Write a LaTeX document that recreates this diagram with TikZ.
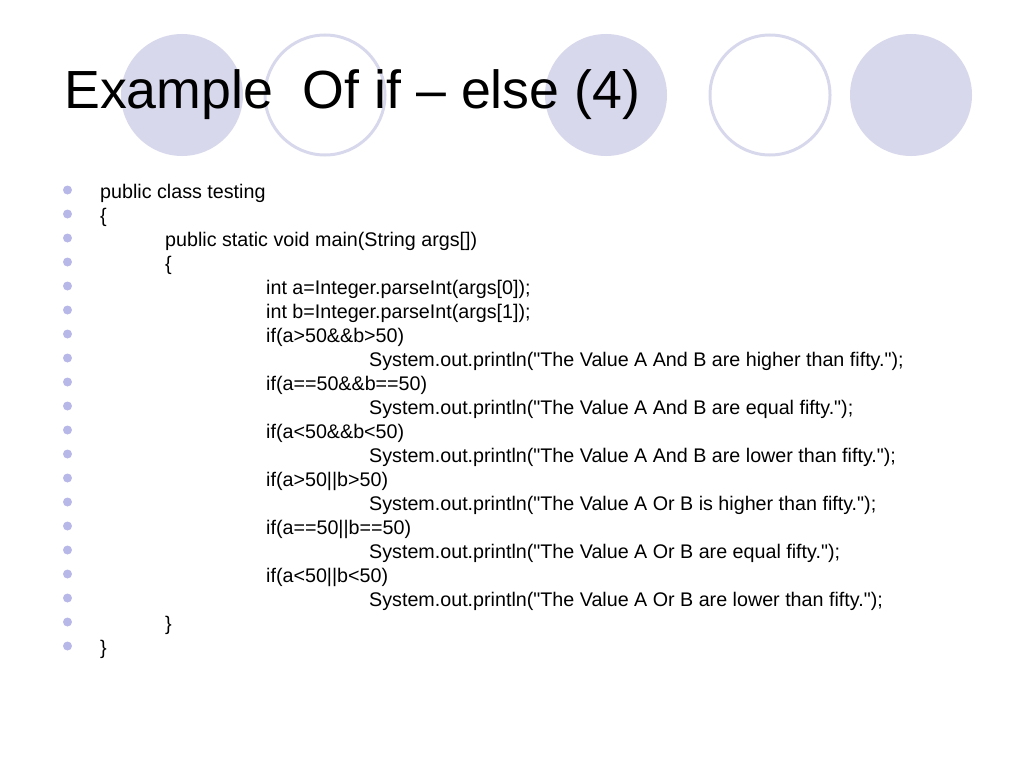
\documentclass[tikz,border=0pt]{standalone}
\usepackage{fontspec}
\setmainfont{Liberation Sans}
\setmonofont{Liberation Sans}
\definecolor{ringfill}{RGB}{216,216,236}
\definecolor{bulletblue}{RGB}{184,184,232}
\begin{document}
\begin{tikzpicture}[x=1pt, y=-1pt,
    disc/.style={fill=ringfill},
    ring/.style={draw=ringfill, line width=3pt},
    codeline/.style={anchor=base west, inner sep=0pt, font=\ttfamily\fontsize{19.7}{23}\selectfont},
    dot/.style={circle, fill=bulletblue, inner sep=0pt, minimum size=9pt}]
    \useasboundingbox (0,0) rectangle (1024,768);

    % circles behind the title
    \fill[disc] (182,95) circle (61pt);
    \draw[ring] (325,95) circle (60pt);
    \fill[disc] (606,95) circle (61pt);
    \draw[ring] (770,95) circle (60pt);
    \fill[disc] (911,95) circle (61pt);

    \node[anchor=base west, inner sep=0pt, font=\fontsize{53.7}{60}\selectfont] (title) at (64,108) {Example\ \ Of if -- else (4)};

    % bullets
    \foreach \i in {1,...,20}
        \node[dot] (b\i) at (67.5, {190+24*(\i-1)}) {};

    % code lines
    \node[codeline] (l1) at (100,198) {public class testing};
    \node[codeline] (l2) at (100,222) {\{};
    \node[codeline] (l3) at (165,246) {public static void main(String args[])};
    \node[codeline] (l4) at (165,270) {\{};
    \node[codeline] (l5) at (266,294) {int a=Integer.parseInt(args[0]);};
    \node[codeline] (l6) at (266,318) {int b=Integer.parseInt(args[1]);};
    \node[codeline] (l7) at (266,342) {if(a>50\&\&b>50)};
    \node[codeline] (l8) at (369,366) {System.out.println("The Value A And B are higher than fifty.");};
    \node[codeline] (l9) at (266,390) {if(a==50\&\&b==50)};
    \node[codeline] (l10) at (369,414) {System.out.println("The Value A And B are equal fifty.");};
    \node[codeline] (l11) at (266,438) {if(a<50\&\&b<50)};
    \node[codeline] (l12) at (369,462) {System.out.println("The Value A And B are lower than fifty.");};
    \node[codeline] (l13) at (266,486) {if(a>50||b>50)};
    \node[codeline] (l14) at (369,510) {System.out.println("The Value A Or B is higher than fifty.");};
    \node[codeline] (l15) at (266,534) {if(a==50||b==50)};
    \node[codeline] (l16) at (369,558) {System.out.println("The Value A Or B are equal fifty.");};
    \node[codeline] (l17) at (266,582) {if(a<50||b<50)};
    \node[codeline] (l18) at (369,606) {System.out.println("The Value A Or B are lower than fifty.");};
    \node[codeline] (l19) at (165,630) {\}};
    \node[codeline] (l20) at (100,654) {\}};
\end{tikzpicture}
\end{document}
